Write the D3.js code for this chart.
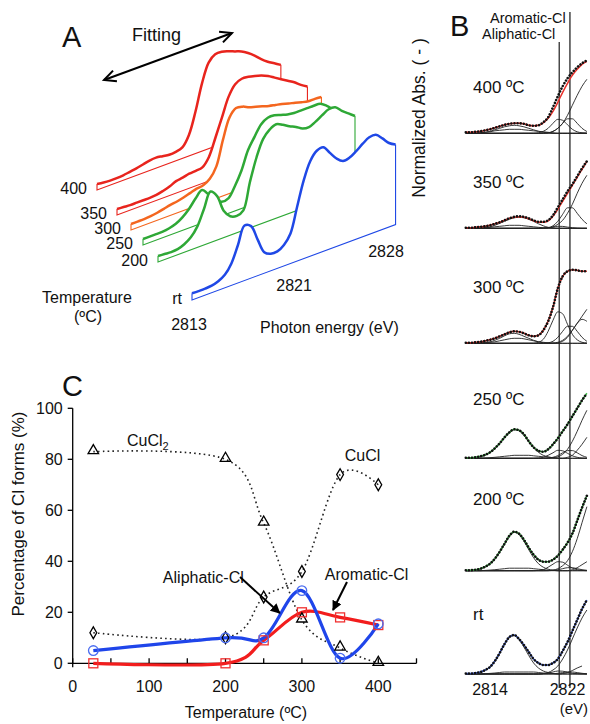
<!DOCTYPE html>
<html><head><meta charset="utf-8">
<script src="https://cdn.jsdelivr.net/npm/d3@7/dist/d3.min.js"></script>
<style>
body{margin:0;background:#fff}
svg{display:block}
text{font-family:"Liberation Sans",Arial,Helvetica,sans-serif;fill:#111}
</style>
</head><body>
<script>
// ================= DATA =================
// ---- Panel A: stacked XANES spectra (normalized absorbance, arbitrary units) ----
const aEnergy = [2813,2813.5,2814,2814.5,2815,2815.5,2816,2816.5,2817,2817.5,2818,2818.5,2819,2819.5,2820,2820.5,2821,2821.5,2822,2822.5,2823,2823.5,2824,2824.5,2825,2825.5,2826,2826.5,2827,2827.5,2828,2828.5];
const aTempLabels = ["400","350","300","250","200","rt"];
const aAbs400 = [6,5,4.5,4.5,5,6,7,8.5,10,10.5,9.5,8.5,9,11,21,42,68,86,92,92,90,87.5,85,81,76,70,65,61,57];
const aAbs350 = [6,5.5,5,5,5,5,5.5,7,9,12,13,14.5,15,16,24,41,59,77,87,90,89.5,88,86,83,79,75,71,67,62,58];
const aAbs300 = [6,6,6,6.5,7.5,9,10.5,11.5,13,15,17,18,22,32,56,76,83,82,79,77,75,73,71.5,70,68,66.5,64.5,63,63,62.5];
const aAbs250 = [6,6,6,6,7,9,13,19,27,33,26,18,14,15,25,38,56,67,77,81,81,79,77,76,76,76,76,75.5,71,65,60];
const aAbs200 = [6,5.5,5,5.5,8,12.5,21,36,51,44,27,19,17,20,46,68,84,91,94,91,87,84,80,79,82,86,89.5,89,83,78,73];
const aAbsRt  = [6.7,6.5,6.5,7,9,13,22,38,55,52,36,21,17,17,21,30,54,78,95,103,104,96,88,83,84,88,93,97,97,91,84,80];
const aEnergyTicks = [2813,2821,2828];

// ---- Panel B: fitted spectra, rows = 400, 350, 300, 250, 200, rt ----
const bEnergy = [2811.5,2812,2812.5,2813,2813.5,2814,2814.5,2815,2815.5,2816,2816.5,2817,2817.5,2818,2818.5,2819,2819.5,2820,2820.5,2821,2821.5,2822,2822.5,2823,2823.5,2824];
const bLabels = ["400 ºC","350 ºC","300 ºC","250 ºC","200 ºC","rt"];
const bObserved = [
  [1,1,1.5,2,3,4,5.5,7,8.5,9.5,10,10,9.5,8,7.5,8,11,16,26,37,47,55,61,66,70,73],
  [0.5,0.5,1,1.5,2,3,4.5,6,8,10,11.5,12,11.5,10,8,6.5,6.5,8,13,21,29,37,44,52,60,67],
  [0.5,0.5,1,1.5,2.5,3.5,5,7,9,11,12,11.5,10,8,7,8,13,22,36,55,67,72,73.5,73,72,72],
  [0.5,0.5,1,2,3.5,6,10,15,21,26,29,28,24,17,11,7.5,6.5,9,14,20,27,34,42,50,58,65],
  [0.5,0.5,1,2,4,7,12,19,27,35,39,37,31,23,16,11,9,9,11,15,21,28,37,50,63,75],
  [0.5,0.5,1,2,4,7,13,21,30,37,39,35,29,22,15,11,9,9,11,15,23,32,43,54,65,74]
];
const bFit = [
  [1,1,1.5,2,3,4,5.5,7,8.5,9.5,10,10,9.5,8,7.5,8,10.5,15,22,31,41,50,58,64,69,72],
  [0.5,0.5,1,1.5,2,3,4.5,6,8,10,11,11.5,11,9.5,7.5,6,6,7.5,12,19,27,35,43,51,59,67],
  [0.5,0.5,1,1.5,2.5,3.5,5,7,9,11,12,11.5,10,8,7,8,13,22,36,55,67,72,73.5,73,72,72],
  [0.5,0.5,1,2,3.5,6,10,15,21,26,29,28,24,17,11,7.5,6.5,9,14,20,27,34,42,50,58,65],
  [0.5,0.5,1,2,4,7,12,19,27,35,39,37,31,23,16,11,9,9,11,15,21,28,37,50,63,75],
  [0.5,0.5,1,2,4,7,13,21,30,37,39,35,29,22,15,11,9,9,11,15,23,32,43,54,65,74]
];
const bPreEdge = [
  [0,0,0.3,0.6,1,2,3.5,5,6.5,7.5,8,7.5,6.5,5,3.5,2,1,0.5,0,0,0,0,0,0,0,0],
  [0,0,0,0.5,1,1.5,3,5,7,9,10.5,11,10.5,9,7,4.5,2.5,1,0.5,0,0,0,0,0,0,0],
  [0,0,0,0.5,1,1.5,3,5,7.5,9.5,10,9,7,5,3,1.5,0.5,0,0,0,0,0,0,0,0,0],
  [0,0,0.5,1.5,3,5.5,9.5,14.5,20.5,25.5,28.5,27.5,23,16.5,10.5,6,3,1.5,0.5,0,0,0,0,0,0,0],
  [0,0,0.5,1.5,3.5,6.5,11.5,18.5,26.5,34,38.5,36,29.5,21,13,7,3.5,1.5,0.5,0,0,0,0,0,0,0],
  [0,0,0.5,1.5,3.5,7,13,21,30,36.5,38.5,34.5,27,18.5,11,6,3,1.5,0.5,0,0,0,0,0,0,0]
];
const bPreEdge2 = [
  [0,0,0,0.5,1,1.5,2.5,3,3.5,4,4,4,3.5,3,2.5,2,1.5,1,0.5,0,0,0,0,0,0,0],
  [0,0,0,0,0.5,1,1.5,2,2.5,3,3,3,2.5,2,1.5,1,0.5,0.3,0,0,0,0,0,0,0,0],
  [0,0,0,0.3,0.6,1,1.5,2.5,3.5,4.5,5,5,4.5,3.5,2.5,1.5,1,0.5,0.2,0,0,0,0,0,0,0],
  [0,0,0,0,0.3,0.6,1,1.5,2,2.5,3,3,3,3,2.5,2,1.5,1,0.5,0.2,0,0,0,0,0,0],
  [0,0,0,0,0.3,0.6,1,1.5,2,2.5,2.5,2.5,2.5,2.5,2,1.5,1,0.5,0.3,0,0,0,0,0,0,0],
  [0,0,0,0,0.3,0.6,1,1.5,2,2,2,2,2,2,2,1.5,1,0.5,0.3,0,0,0,0,0,0,0]
];
const bAliphaticPeak = [
  [0,0,0,0,0,0,0,0,0,0,0,0,0,0,0,0.5,2,5,10,14,13,8.5,4,1.5,0.5,0.2],
  [0,0,0,0,0,0,0,0,0,0,0,0,0,0,0,0,0.2,0.6,1.3,2,1.9,1.2,0.6,0.2,0,0],
  [0,0,0,0,0,0,0,0,0,0,0,0,0,0,0,1,4,12,23,31.5,29.5,19,9,3.5,1,0.3],
  [0,0,0,0,0,0,0,0,0,0,0,0,0,0,0,0.3,1,3,5.5,8,7.5,5,2.5,1,0.3,0],
  [0,0,0,0,0,0,0,0,0,0,0,0,0,0,0,0.3,1,3.5,6.5,9,8.5,5.5,2.5,1,0.3,0],
  [0,0,0,0,0,0,0,0,0,0,0,0,0,0,0,0,0.3,1,2,3,2.8,1.8,0.8,0.3,0.1,0]
];
const bAromaticPeak = [
  [0,0,0,0,0,0,0,0,0,0,0,0,0,0,0,0,0,0.5,1.8,5,10,14.5,14.5,10,5,1.8],
  [0,0,0,0,0,0,0,0,0,0,0,0,0,0,0,0,0,0.6,2.5,7,14,20.5,20.5,15,9,4.5],
  [0,0,0,0,0,0,0,0,0,0,0,0,0,0,0,0,0,0.5,2,6,12,17,17,12,6,2],
  [0,0,0,0,0,0,0,0,0,0,0,0,0,0,0,0,0,0.2,1,2.7,5.5,7.7,7.7,5.5,2.7,1],
  [0,0,0,0,0,0,0,0,0,0,0,0,0,0,0,0,0,0.1,0.4,1,2,3,3,2,1,0.4],
  [0,0,0,0,0,0,0,0,0,0,0,0,0,0,0,0,0,0,0.2,0.7,1.4,2,2,1.4,0.7,0.2]
];
const bEdgeStep = [
  [0,0,0,0,0,0,0,0,0,0,0,0,0,0,0,0,0.2,0.5,2,5,10,18,28,38,47,54],
  [0,0,0,0,0,0,0,0,0,0,0,0,0,0,0,0,0.2,0.5,1.5,4,8,15,24,35,45,53],
  [0,0,0,0,0,0,0,0,0,0,0,0,0,0,0,0,0,0,0.3,1,3,7,13,20,27,34],
  [0,0,0,0,0,0,0,0,0,0,0,0,0,0,0,0,0,0,0.5,1.5,4,9,17,27,38,48],
  [0,0,0,0,0,0,0,0,0,0,0,0,0,0,0,0,0,0,0.5,2,5,10,19,32,48,64],
  [0,0,0,0,0,0,0,0,0,0,0,0,0,0,0,0,0.5,1.5,4,8,15,24,35,46,56,64]
];
const bExtraPeak = [
  [0,0,0,0,0,0,0,0,0,0,0,0,0,0,0,0,0,0,0,0,0,0,0,0,0,0],
  [0,0,0,0,0,0,0,0,0,0,0,0,0,0,0,0,0,0,0,0,0,0,0,0,0,0],
  [0,0,0,0,0,0,0,0,0,0,0,0,0,0,0,0,0,0,0,0.5,2,6,13,20,24,22],
  [0,0,0,0,0,0,0,0,0,0,0,0,0,0,0,0,0,0,0,0,0,1,3,8,14,21],
  [0,0,0,0,0,0,0,0,0,0,0,0,0,0,0,0,0,0,0,0,0,0,1,3,6,9],
  [0,0,0,0,0,0,0,0,0,0,0,0,0,0,0,0,0,0,0,0,0.5,1.5,3.5,6,8]
];
const bMarkerEnergies = [2821.15, 2822.25];
const bMarkerNames = ["Aliphatic-Cl","Aromatic-Cl"];
const bTicks = [2814, 2822];

// ---- Panel C ----
const cTemps = [27,200,250,300,350,400];
const cCuCl2 = [83,80,55,17,6,0];
const cCuCl = [12,10,26,36,74,70];
const cAliphatic = [5,10,10,28.5,2,15.5];
const cAromatic = [0,0,9,20,18,15];
const cXTicks = [0,100,200,300,400];
const cXMinor = [50,150,250,350,450];
const cYTicks = [0,20,40,60,80,100];

// ================= LAYOUT / STYLE =================
const svg = d3.select("body").append("svg").attr("width",590).attr("height",724);

function text(g,x,y,s,size,anchor){
  return g.append("text").attr("x",x).attr("y",y).attr("font-size",size)
    .attr("text-anchor",anchor||"start").text(s);
}

// ---------- Panel A ----------
const gA = svg.append("g");
const aSpectra = [aAbs400,aAbs350,aAbs300,aAbs250,aAbs200,aAbsRt];
const aOrigins = [[97,190],[117,215],[131,230],[143,245],[158,262],[192,300]];
const aColors = ["#e8241d","#e8241d","#f4661f","#2ea836","#2ea836","#1f48e6"];
const aRun = d3.scaleLinear().domain([2813,2828]).range([0,197]);
const aRise = d3.scaleLinear().domain([2813,2828]).range([0,-73]);
const aHeight = d3.scaleLinear().domain([0,100]).range([0,-100]);
const aLine = d3.line().curve(d3.curveCatmullRom);

aSpectra.forEach((vals,k)=>{
  const [ox,oy] = aOrigins[k];
  const pts = vals.map((v,i)=>[ox+aRun(aEnergy[i]), oy+aRise(aEnergy[i])+aHeight(v)]);
  const eEnd = aEnergy[vals.length-1];
  const b0 = [ox+aRun(aEnergy[0]), oy+aRise(aEnergy[0])];
  const b1 = [ox+aRun(eEnd), oy+aRise(eEnd)];
  const sp = aLine(pts);
  gA.append("path").attr("d", sp+"L"+b1[0]+","+b1[1]+"L"+b0[0]+","+b0[1]+"Z").attr("fill","#fff");
  gA.append("path").attr("d", d3.line()([pts[pts.length-1],b1,b0,pts[0]]))
    .attr("fill","none").attr("stroke",aColors[k]).attr("stroke-width",1.1);
  gA.append("path").attr("d", sp).attr("fill","none").attr("stroke",aColors[k])
    .attr("stroke-width",2.5).attr("stroke-linejoin","round");
  text(gA, ox-10, oy+4, aTempLabels[k], 16, "end");
});
{
  const [ox,oy] = aOrigins[5];
  aEnergyTicks.forEach(e=> text(gA, ox+aRun(e)-3, oy+aRise(e)+30, String(e), 16, "middle"));
}
text(gA, 62, 47, "A", 29);
text(gA, 132, 41, "Fitting", 18);
text(gA, 42, 303, "Temperature", 16);
text(gA, 88, 322, "(ºC)", 16, "middle");
text(gA, 260, 333, "Photon energy (eV)", 16);
{
  const p0=[104,80], p1=[232,33];
  gA.append("line").attr("x1",p0[0]).attr("y1",p0[1]).attr("x2",p1[0]).attr("y2",p1[1])
    .attr("stroke","#000").attr("stroke-width",2);
  const ang = Math.atan2(p1[1]-p0[1], p1[0]-p0[0]);
  function head(tip, dir){
    const L=13, a=0.45;
    const q1=[tip[0]-dir*L*Math.cos(ang-a), tip[1]-dir*L*Math.sin(ang-a)];
    const q2=[tip[0]-dir*L*Math.cos(ang+a), tip[1]-dir*L*Math.sin(ang+a)];
    gA.append("path").attr("d", d3.line()([q1,tip,q2])).attr("fill","none")
      .attr("stroke","#000").attr("stroke-width",2);
  }
  head(p1,1); head(p0,-1);
}
svg.append("text").attr("transform","translate(425,118) rotate(-90)")
  .attr("font-size",17.5).attr("text-anchor","middle").text("Normalized Abs. ( - )");

// ---------- Panel B ----------
const gB = svg.append("g");
const bX = d3.scaleLinear().domain([2814,2822]).range([490,567.5]);
const bBase = [133.3,228.3,343.3,458.3,570.7,674];
const bLabelY = [93,188,293,405,505,620];
const bColors = ["#e8302a","#e8302a","#e8302a","#3cb846","#3cb846","#3a5ad8"];
const bLine = d3.line().curve(d3.curveMonotoneX);

text(gB, 450, 36, "B", 29);
bMarkerEnergies.forEach((e,j)=>{
  gB.append("line").attr("x1",bX(e)).attr("x2",bX(e)).attr("y1", j===0?42:12).attr("y2",688)
    .attr("stroke","#666").attr("stroke-width",1.4);
  gB.append("line").attr("x1",bX(e)).attr("x2",bX(e)).attr("y1", j===0?42:12).attr("y2",688)
    .attr("stroke","#222").attr("stroke-width",0.6);
});
text(gB, 490, 23, bMarkerNames[1], 14.5);
text(gB, 482, 39, bMarkerNames[0], 14.5);

bBase.forEach((by,k)=>{
  const y = d3.scaleLinear().domain([0,100]).range([by, by-100]);
  const mk = arr => bLine(arr.map((v,i)=>[bX(bEnergy[i]), y(v)]));
  [bPreEdge2[k], bExtraPeak[k], bAliphaticPeak[k], bAromaticPeak[k], bEdgeStep[k], bPreEdge[k]].forEach(arr=>{
    gB.append("path").attr("d", mk(arr)).attr("fill","none").attr("stroke","#222").attr("stroke-width",0.9);
  });
  gB.append("path").attr("d", mk(bFit[k])).attr("fill","none").attr("stroke",bColors[k]).attr("stroke-width",1.5);
  gB.append("path").attr("d", mk(bObserved[k])).attr("fill","none").attr("stroke","#111")
    .attr("stroke-width",2.6).attr("stroke-linecap","round").attr("stroke-dasharray","0.01,3.1");
  text(gB, 473, bLabelY[k], bLabels[k], 17);
});
bTicks.forEach(t=> text(gB, bX(t), 695, String(t), 16, "middle"));
text(gB, 588, 714, "(eV)", 15, "end");

// ---------- Panel C ----------
const gC = svg.append("g");
const cX = d3.scaleLinear().domain([0,450]).range([72.7,416.5]);
const cY = d3.scaleLinear().domain([0,100]).range([663.3,408.3]);

text(gC, 62, 396, "C", 29);
gC.append("line").attr("x1",cX(0)).attr("x2",cX(450)).attr("y1",cY(0)).attr("y2",cY(0)).attr("stroke","#000").attr("stroke-width",1.3);
gC.append("line").attr("x1",cX(0)).attr("x2",cX(0)).attr("y1",cY(100)).attr("y2",cY(0)+4).attr("stroke","#000").attr("stroke-width",1.3);
cYTicks.forEach(t=>{
  gC.append("line").attr("x1",cX(0)-5).attr("x2",cX(0)).attr("y1",cY(t)).attr("y2",cY(t)).attr("stroke","#000").attr("stroke-width",1.3);
  text(gC, cX(0)-10, cY(t)+5.5, String(t), 16, "end");
});
cXTicks.concat(cXMinor).forEach(t=>{
  gC.append("line").attr("x1",cX(t)).attr("x2",cX(t)).attr("y1",cY(0)).attr("y2",cY(0)-5).attr("stroke","#000").attr("stroke-width",1.3);
});
cXTicks.forEach(t=> text(gC, cX(t), 691.5, String(t), 16, "middle"));
text(gC, 246, 718, "Temperature (ºC)", 16, "middle");
gC.append("text").attr("transform","translate(24,514) rotate(-90)").attr("font-size",17)
  .attr("text-anchor","middle").text("Percentage of Cl forms (%)");

const cLine = d3.line().x((d,i)=>cX(cTemps[i])).y(d=>cY(d)).curve(d3.curveCardinal.tension(0));
[cCuCl2,cCuCl].forEach(s=>{
  gC.append("path").attr("d",cLine(s)).attr("fill","none").attr("stroke","#222")
    .attr("stroke-width",1.6).attr("stroke-dasharray","1.6,3.2");
});
gC.append("path").attr("d",cLine(cAromatic)).attr("fill","none").attr("stroke","#f21d1d").attr("stroke-width",3.2);
gC.append("path").attr("d",cLine(cAliphatic)).attr("fill","none").attr("stroke","#1f45ea").attr("stroke-width",3.2);

const tri = d3.symbol().type(d3.symbolTriangle).size(48);
const dia = d3.symbol().type(d3.symbolDiamond).size(40);
cCuCl2.forEach((v,i)=> gC.append("path").attr("d",tri()).attr("transform",`translate(${cX(cTemps[i])},${cY(v)-1})`)
  .attr("fill","none").attr("stroke","#000").attr("stroke-width",1.3));
cCuCl.forEach((v,i)=> gC.append("path").attr("d",dia()).attr("transform",`translate(${cX(cTemps[i])},${cY(v)})`)
  .attr("fill","none").attr("stroke","#000").attr("stroke-width",1.3));
cAromatic.forEach((v,i)=> gC.append("rect").attr("x",cX(cTemps[i])-4.5).attr("y",cY(v)-4.5).attr("width",9).attr("height",9)
  .attr("fill","none").attr("stroke","#f03030").attr("stroke-width",1.3));
cAliphatic.forEach((v,i)=> gC.append("circle").attr("cx",cX(cTemps[i])).attr("cy",cY(v)).attr("r",4.8)
  .attr("fill","none").attr("stroke","#4a6cf0").attr("stroke-width",1.3));

const t1 = text(gC, cX(71), cY(85.2), "CuCl", 16); t1.append("tspan").attr("font-size",11).attr("dy",4).text("2");
text(gC, cX(356), cY(79.3), "CuCl", 16);
text(gC, cX(118), cY(31.5), "Aliphatic-Cl", 16);
text(gC, cX(330), cY(32.7), "Aromatic-Cl", 16);
svg.append("defs").append("marker").attr("id","ah").attr("viewBox","0 0 10 10").attr("refX",9).attr("refY",5)
  .attr("markerWidth",5).attr("markerHeight",5).attr("orient","auto")
  .append("path").attr("d","M0,0L10,5L0,10Z").attr("fill","#000");
[[[219,33.8],[271,19.7]],[[359,31.9],[340.7,20.9]]].forEach(([a,b])=>{
  gC.append("line").attr("x1",cX(a[0])).attr("y1",cY(a[1])).attr("x2",cX(b[0])).attr("y2",cY(b[1]))
    .attr("stroke","#000").attr("stroke-width",2).attr("marker-end","url(#ah)");
});
</script>
</body></html>
